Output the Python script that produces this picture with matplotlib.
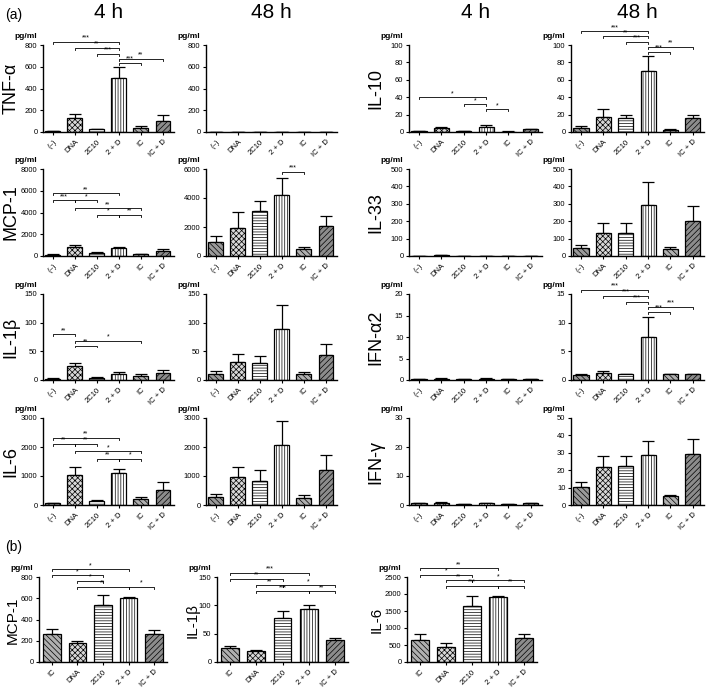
import numpy as np
import matplotlib
matplotlib.use('Agg')
import matplotlib.pyplot as plt

plt.rcParams['font.family'] = ['Liberation Sans', 'DejaVu Sans']
plt.rcParams['hatch.linewidth'] = 0.5

groups_a = ['(–)', 'DNA', '2C10', '2 + D', 'IC', 'IC + D']
groups_b = ['IC', 'DNA', '2C10', '2 + D', 'IC + D']

# (a) cytokines, mean and upper SEM (pg/ml)
tnf_4h = [5, 130, 25, 495, 35, 105]
tnf_4h_err = [3, 40, 5, 100, 20, 55]
tnf_48h = [0, 0, 0, 0, 0, 0]
tnf_48h_err = [0, 0, 0, 0, 0, 0]
mcp_4h = [100, 850, 300, 780, 150, 450]
mcp_4h_err = [50, 120, 30, 80, 60, 170]
mcp_48h = [950, 1950, 3100, 4200, 500, 2050]
mcp_48h_err = [450, 1100, 700, 1200, 130, 700]
il1b_4h = [2, 25, 4, 11, 7, 12]
il1b_4h_err = [1, 4, 1, 3, 3, 5]
il1b_48h = [11, 32, 29, 89, 10, 44]
il1b_48h_err = [5, 13, 13, 41, 4, 19]
il6_4h = [60, 1050, 140, 1100, 190, 530]
il6_4h_err = [20, 250, 20, 140, 90, 260]
il6_48h = [270, 960, 830, 2080, 250, 1200]
il6_48h_err = [110, 340, 370, 830, 110, 530]
il10_4h = [1, 5, 1, 6, 0.5, 3]
il10_4h_err = [0.5, 1, 0.5, 1.5, 0.3, 1]
il10_48h = [5, 17.5, 16, 70, 2.5, 16.5]
il10_48h_err = [2, 9, 3.5, 17, 1, 3]
il33_4h = [2, 3, 2, 2, 1, 2]
il33_4h_err = [0.5, 0.5, 0.5, 0.5, 0.5, 0.5]
il33_48h = [45, 133, 130, 293, 38, 203]
il33_48h_err = [20, 55, 57, 133, 13, 87]
ifna_4h = [0.2, 0.3, 0.2, 0.3, 0.2, 0.2]
ifna_4h_err = [0.05, 0.05, 0.05, 0.05, 0.05, 0.05]
ifna_48h = [0.9, 1.2, 1.0, 7.5, 1.0, 1.0]
ifna_48h_err = [0.1, 0.3, 0.1, 3.5, 0.1, 0.1]
ifng_4h = [0.6, 0.8, 0.4, 0.7, 0.4, 0.6]
ifng_4h_err = [0.1, 0.1, 0.1, 0.1, 0.1, 0.1]
ifng_48h = [10.5, 22, 22.5, 28.5, 5, 29.5]
ifng_48h_err = [2.5, 6, 5.5, 8.5, 1, 8.5]

# (b)
mcp_b = [260, 175, 535, 600, 262]
mcp_b_err = [50, 25, 100, 15, 40]
il1b_b = [25, 19, 78, 93, 38]
il1b_b_err = [3, 2, 12, 8, 4]
il6_b = [660, 450, 1650, 1920, 710]
il6_b_err = [150, 100, 280, 30, 110]

# significance brackets: (from, to, height, label)
tnf_4h_sig = [(0, 3, 830, '***'), (1, 3, 775, '**'), (2, 3, 720, '***'),
              (3, 5, 672, '**'), (3, 4, 635, '***')]
mcp_4h_sig = [(0, 3, 5785, '**'), (0, 1, 5108, '***'), (1, 2, 5108, '*'),
              (1, 4, 4400, '**'), (2, 3, 3785, '*'), (3, 4, 3785, '**')]
mcp_48h_sig = [(3, 4, 5790, '***')]
il1b_4h_sig = [(0, 1, 80, '**'), (1, 4, 68.6, '*'), (1, 2, 60, '**')]
il6_4h_sig = [(0, 3, 2310, '**'), (0, 1, 2115, '**'), (1, 2, 2115, '**'),
              (1, 4, 1850, '*'), (2, 3, 1598, '**'), (3, 4, 1598, '*')]
il10_4h_sig = [(0, 3, 39.7, '*'), (2, 3, 32, '*'), (3, 4, 26.3, '*')]
il10_48h_sig = [(0, 3, 116, '***'), (1, 3, 110, '**'), (2, 3, 103.4, '***'),
                (3, 5, 98, '**'), (3, 4, 92.4, '***')]
ifna_48h_sig = [(0, 3, 15.75, '***'), (1, 3, 14.7, '***'), (2, 3, 13.66, '***'),
                (3, 5, 12.73, '***'), (3, 4, 11.9, '***')]
mcp_b_sig = [(0, 3, 872, '*'), (0, 2, 816, '*'), (1, 2, 763, '*'),
             (1, 3, 707, '**'), (3, 4, 707, '*')]
il1b_b_sig = [(0, 3, 157, '***'), (0, 2, 146.5, '**'), (1, 2, 135.6, '**'),
              (2, 4, 135.6, '*'), (1, 3, 125, '***'), (3, 4, 125, '**')]
il6_b_sig = [(0, 3, 2757, '**'), (0, 2, 2567, '*'), (1, 2, 2405, '**'),
             (2, 4, 2405, '*'), (1, 3, 2242, '***'), (3, 4, 2242, '**')]

style = {
    '(–)': ('#9a9a9a', '\\\\\\\\\\\\'),
    'DNA': ('#d8d8d8', 'xxxxxx'),
    '2C10': ('white', '------'),
    '2 + D': ('white', '||||||'),
    'IC': ('#b0b0b0', '\\\\\\\\\\\\'),
    'IC + D': ('#8c8c8c', '//////'),
}

W, H = 709, 690
fig = plt.figure(figsize=(W / 100, H / 100), dpi=100)


def add_ax(x0, x1, y0, y1):
    return fig.add_axes([x0 / W, 1 - y1 / H, (x1 - x0) / W, (y1 - y0) / H])


def draw(ax, labels, vals, errs, ymax, ystep, sig, xleft=-0.45):
    x = np.arange(len(labels))
    for k, lab in enumerate(labels):
        fc, ht = style[lab]
        ax.bar(x[k], vals[k], width=0.68, color=fc, edgecolor='k', hatch=ht,
               linewidth=0.9, zorder=2)
    ax.errorbar(x, vals, yerr=[np.zeros(len(vals)), errs], fmt='none', ecolor='k',
                elinewidth=0.9, capsize=4, capthick=0.9, zorder=1)
    ax.set_xlim(xleft, len(labels) - 0.5)
    ax.set_ylim(0, ymax)
    ax.set_yticks(np.arange(0, ymax + ystep / 2, ystep))
    ax.set_xticks(x)
    ax.set_xticklabels(labels, rotation=45, ha='right', rotation_mode='anchor', fontsize=6.5)
    for s in ['top', 'right']:
        ax.spines[s].set_visible(False)
    for s in ['left', 'bottom']:
        ax.spines[s].set_linewidth(1.0)
    ax.tick_params(length=2.5, width=0.8, labelsize=5.5, pad=1.5)
    ax.tick_params(axis='x', pad=2)
    ax.annotate('pg/ml', xy=(0, 1), xycoords='axes fraction', xytext=(-17, 5),
                textcoords='offset pixels', ha='center', va='bottom', fontsize=6,
                fontweight='bold')
    h = 0.022 * ymax
    for i, j, y, lab in sig:
        ax.plot([i, i, j, j], [y - h, y, y, y - h], color='k', lw=0.6, clip_on=False)
        ax.text((i + j) / 2, y + 0.002 * ymax, lab, ha='center', va='bottom', fontsize=5,
                clip_on=False)


cols = [(43, 174), (206, 337), (409, 542), (571, 704)]
rows = [(45, 132), (169, 256), (294, 380), (418, 505)]

panels = [
    (0, 0, tnf_4h, tnf_4h_err, 800, 200, tnf_4h_sig),
    (1, 0, tnf_48h, tnf_48h_err, 800, 200, []),
    (0, 1, mcp_4h, mcp_4h_err, 8000, 2000, mcp_4h_sig),
    (1, 1, mcp_48h, mcp_48h_err, 6000, 2000, mcp_48h_sig),
    (0, 2, il1b_4h, il1b_4h_err, 150, 50, il1b_4h_sig),
    (1, 2, il1b_48h, il1b_48h_err, 150, 50, []),
    (0, 3, il6_4h, il6_4h_err, 3000, 1000, il6_4h_sig),
    (1, 3, il6_48h, il6_48h_err, 3000, 1000, []),
    (2, 0, il10_4h, il10_4h_err, 100, 20, il10_4h_sig),
    (3, 0, il10_48h, il10_48h_err, 100, 20, il10_48h_sig),
    (2, 1, il33_4h, il33_4h_err, 500, 100, []),
    (3, 1, il33_48h, il33_48h_err, 500, 100, []),
    (2, 2, ifna_4h, ifna_4h_err, 20, 5, []),
    (3, 2, ifna_48h, ifna_48h_err, 15, 5, ifna_48h_sig),
    (2, 3, ifng_4h, ifng_4h_err, 30, 10, []),
    (3, 3, ifng_48h, ifng_48h_err, 50, 10, []),
]

for c, r, v, e, ymax, step, sig in panels:
    ax = add_ax(cols[c][0], cols[c][1], rows[r][0], rows[r][1])
    draw(ax, groups_a, v, e, ymax, step, sig)

bcols = [(39, 167), (217, 348), (407, 537)]
bpanels = [
    (0, mcp_b, mcp_b_err, 800, 200, mcp_b_sig),
    (1, il1b_b, il1b_b_err, 150, 50, il1b_b_sig),
    (2, il6_b, il6_b_err, 2500, 500, il6_b_sig),
]
for c, v, e, ymax, step, sig in bpanels:
    ax = add_ax(bcols[c][0], bcols[c][1], 577, 662)
    draw(ax, groups_b, v, e, ymax, step, sig, xleft=-0.5)

# column titles
for (x0, x1), t in zip(cols, ['4 h', '48 h', '4 h', '48 h']):
    fig.text((x0 + x1) / 2 / W, 1 - 12 / H, t, ha='center', va='center', fontsize=15)

# row labels
row_names_left = ['TNF-α', 'MCP-1', 'IL-1β', 'IL-6']
row_names_right = ['IL-10', 'IL-33', 'IFN-α2', 'IFN-γ']
for (y0, y1), a, b in zip(rows, row_names_left, row_names_right):
    yc = 1 - (y0 + y1) / 2 / H
    fig.text(11 / W, yc, a, rotation=90, ha='center', va='center', fontsize=13)
    fig.text(376 / W, yc, b, rotation=90, ha='center', va='center', fontsize=13)

for xc, name in zip([13, 193, 377], ['MCP-1', 'IL-1β', 'IL-6']):
    fig.text(xc / W, 1 - 620 / H, name, rotation=90, ha='center', va='center', fontsize=11)

fig.text(5 / W, 1 - 15 / H, '(a)', ha='left', va='center', fontsize=10)
fig.text(5 / W, 1 - 547 / H, '(b)', ha='left', va='center', fontsize=10)

fig.savefig('out.png', dpi=100)
